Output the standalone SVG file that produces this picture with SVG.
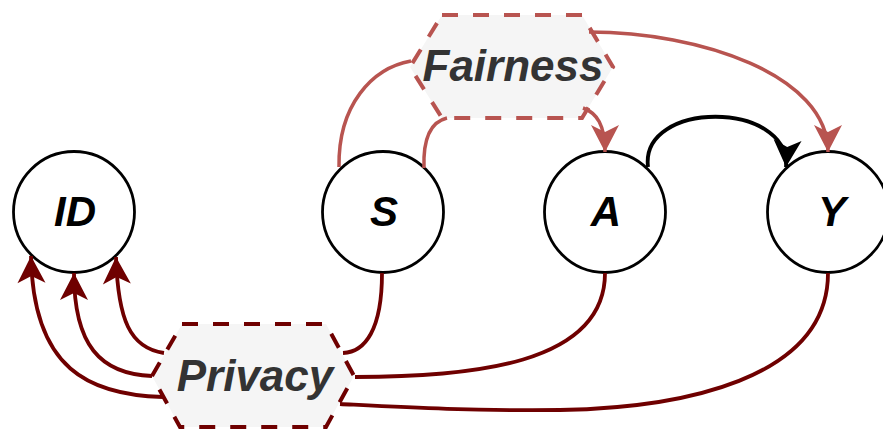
<svg xmlns="http://www.w3.org/2000/svg" width="883" height="431" viewBox="0 0 883 431">
  <style>
    .var { fill: #ffffff; stroke: #000000; stroke-width: 2.8; }
    .var-label { font-family: "Liberation Sans", Arial, sans-serif; font-weight: bold; font-style: italic; font-size: 42px; fill: #000000; text-anchor: middle; }
    .concern { fill: #f5f5f5; stroke-width: 4; stroke-dasharray: 16 15; stroke-linejoin: miter; }
    .concern-label { font-family: "Liberation Sans", Arial, sans-serif; font-weight: bold; font-style: italic; font-size: 44px; fill: #333333; text-anchor: middle; }
    .edge { fill: none; stroke-linecap: butt; }
    .fair { stroke: #b85450; stroke-width: 3.5; }
    .priv { stroke: #6f0000; stroke-width: 3.8; }
    .causal { stroke: #000000; stroke-width: 3.8; }
  </style>
  <defs>
    <marker id="arrow-fair" markerUnits="userSpaceOnUse" markerWidth="28" markerHeight="28" refX="27" refY="14" orient="auto" overflow="visible">
      <path d="M27,14 L0,0 L7,14 L0,28 Z" fill="#b85450"/>
    </marker>
    <marker id="arrow-priv" markerUnits="userSpaceOnUse" markerWidth="28" markerHeight="28" refX="27" refY="14" orient="auto" overflow="visible">
      <path d="M27,14 L0,0 L7,14 L0,28 Z" fill="#6f0000"/>
    </marker>
    <marker id="arrow-causal" markerUnits="userSpaceOnUse" markerWidth="28" markerHeight="28" refX="27" refY="14" orient="auto" overflow="visible">
      <path d="M27,14 L0,0 L7,14 L0,28 Z" fill="#000000"/>
    </marker>
  </defs>

  <!-- variable nodes -->
  <g id="node-id">
    <circle class="var" cx="74" cy="212" r="60.5"/>
    <text class="var-label" x="75" y="226">ID</text>
  </g>
  <g id="node-s">
    <circle class="var" cx="383" cy="212" r="60.5"/>
    <text class="var-label" x="384" y="226">S</text>
  </g>
  <g id="node-a">
    <circle class="var" cx="605" cy="212" r="60.5"/>
    <text class="var-label" x="606" y="226">A</text>
  </g>
  <g id="node-y">
    <circle class="var" cx="828" cy="212" r="60.5"/>
    <text class="var-label" x="832" y="226">Y</text>
  </g>

  <!-- concern nodes -->
  <g id="node-fairness">
    <path class="concern" stroke="#b85450" d="M442,15 L582,15 L613,67 L582,118 L442,118 L410,67 Z"/>
    <text class="concern-label" x="513" y="81">Fairness</text>
  </g>
  <g id="node-privacy">
    <path class="concern" stroke="#6f0000" d="M182,324 L326,324 L354,376 L326,427 L180,427 L152,376 Z"/>
    <text class="concern-label" x="255" y="391">Privacy</text>
  </g>

  <!-- connectors -->
  <g id="connectors">
    <!-- fairness links -->
    <path class="edge fair" d="M339,167 C338,105 372,68 411,61"/>
    <path class="edge fair" d="M424,168 C423,140 430,122 447,118"/>
    <path class="edge fair" d="M583,108 C597,113 605,125 605,152" marker-end="url(#arrow-fair)"/>
    <path class="edge fair" d="M589,32 C700,32 828,75 828,152" marker-end="url(#arrow-fair)"/>

    <!-- causal link A to Y -->
    <path class="edge causal" d="M648,167 C640,100 790,100 786,167" marker-end="url(#arrow-causal)"/>

    <!-- privacy links -->
    <path class="edge priv" d="M382,273 C382,330 365,352 343,353"/>
    <path class="edge priv" d="M605,273 C605,365 470,377 355,377"/>
    <path class="edge priv" d="M828,273 C828,380 680,408 560,410 C470,411 400,407 340,404"/>
    <path class="edge priv" d="M163,397 C90,395 33,370 31,256" marker-end="url(#arrow-priv)"/>
    <path class="edge priv" d="M152,376 C100,374 74,345 74,273" marker-end="url(#arrow-priv)"/>
    <path class="edge priv" d="M164,353 C130,348 118,320 116,257" marker-end="url(#arrow-priv)"/>
  </g>
</svg>
